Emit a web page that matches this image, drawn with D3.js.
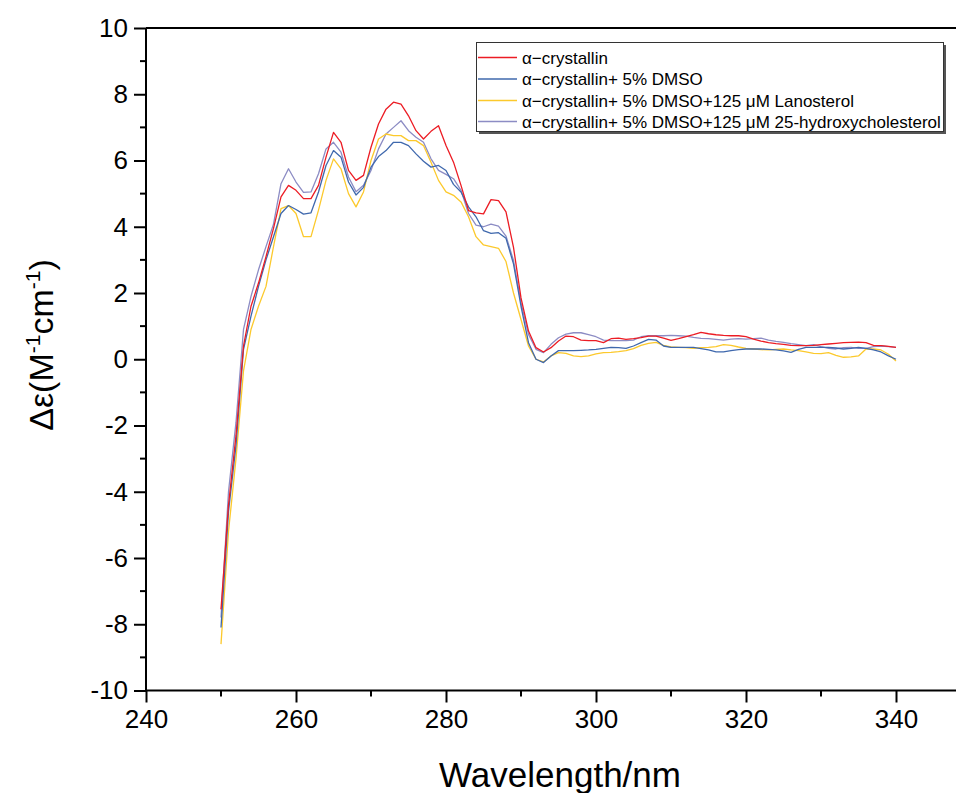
<!DOCTYPE html>
<html>
<head>
<meta charset="utf-8">
<script src="https://cdn.jsdelivr.net/npm/d3@7/dist/d3.min.js"></script>
<style>
  html, body { margin: 0; padding: 0; background: #ffffff; }
  svg { display: block; }
  text { font-family: "Liberation Sans", Arial, sans-serif; fill: #000; }
</style>
</head>
<body>
<svg id="chart" width="956" height="793"></svg>
<script>
// Wavelength grid (nm), 1 nm steps
const wavelengths = d3.range(250, 341, 1);

// CD spectra, Δε (M^-1 cm^-1), one value per wavelength
const alphaCrystallin = [
  -7.55, -4.4, -2.3, 0.4, 1.6, 2.3, 3.1, 3.95, 4.9, 5.25,
  5.1, 4.85, 4.85, 5.25, 6.1, 6.85, 6.55, 5.7, 5.4, 5.55,
  6.4, 7.1, 7.55, 7.76, 7.7, 7.35, 6.9, 6.65, 6.88, 7.05,
  6.45, 5.95, 5.25, 4.49, 4.42, 4.39, 4.82, 4.79, 4.45, 3.38,
  1.85, 0.85, 0.35, 0.22, 0.35, 0.55, 0.7, 0.68, 0.58, 0.56,
  0.56, 0.5, 0.62, 0.64, 0.6, 0.62, 0.65, 0.7, 0.7, 0.64,
  0.57, 0.62, 0.68, 0.74, 0.81, 0.77, 0.74, 0.72, 0.71, 0.71,
  0.68, 0.61, 0.55, 0.5, 0.47, 0.45, 0.42, 0.41, 0.41, 0.42,
  0.44, 0.46, 0.48, 0.5, 0.51, 0.52, 0.5, 0.42, 0.41, 0.39,
  0.36
];
const withDMSO = [
  -8.1, -4.6, -2.6, 0.3, 1.3, 2.2, 3.0, 3.7, 4.4, 4.64,
  4.52, 4.38, 4.42, 5.05, 5.85, 6.3, 6.1, 5.35, 4.96, 5.19,
  5.8, 6.12, 6.3, 6.55, 6.55, 6.45, 6.2, 5.98, 5.8, 5.85,
  5.7, 5.28, 5.05, 4.6, 4.3, 3.88, 3.8, 3.82, 3.65, 2.88,
  1.6, 0.5, 0.0, -0.1, 0.1, 0.26, 0.26, 0.26, 0.27, 0.28,
  0.3, 0.33, 0.36, 0.35, 0.33, 0.4, 0.5, 0.6, 0.58, 0.4,
  0.36, 0.36, 0.36, 0.36, 0.32, 0.28, 0.22, 0.22, 0.26, 0.29,
  0.31, 0.31, 0.31, 0.3, 0.28, 0.25, 0.21, 0.3, 0.36, 0.36,
  0.36, 0.36, 0.34, 0.31, 0.33, 0.36, 0.33, 0.28, 0.22, 0.1,
  0.0
];
const withLanosterol = [
  -8.6, -5.2, -3.0, -0.35, 0.9, 1.6, 2.2, 3.4, 4.55, 4.64,
  4.4, 3.7, 3.7, 4.5, 5.4, 6.05, 5.75, 5.0, 4.6, 5.05,
  6.0, 6.65, 6.8, 6.75, 6.75, 6.6, 6.6, 6.45, 5.95, 5.4,
  5.05, 4.95, 4.75, 4.3, 3.7, 3.45, 3.4, 3.35, 2.95, 2.0,
  1.2, 0.4, 0.0, -0.08, 0.1, 0.2, 0.18, 0.1, 0.08, 0.1,
  0.16, 0.2, 0.21, 0.23, 0.26, 0.32, 0.42, 0.48, 0.51, 0.42,
  0.37, 0.36, 0.35, 0.33, 0.35, 0.36, 0.38, 0.44, 0.42, 0.37,
  0.33, 0.31, 0.29, 0.28, 0.3, 0.31, 0.28, 0.26, 0.22, 0.18,
  0.17, 0.2, 0.12, 0.06, 0.07, 0.1, 0.31, 0.31, 0.28, 0.15,
  -0.05
];
const withHydroxycholesterol = [
  -7.8, -4.0, -1.9, 0.9, 1.9, 2.7, 3.4, 4.08, 5.3, 5.75,
  5.35, 5.04, 5.05, 5.6, 6.35, 6.55, 6.25, 5.5, 5.06, 5.25,
  5.7, 6.35, 6.8, 7.0, 7.2, 6.9, 6.7, 6.55, 6.05, 5.7,
  5.58, 5.45, 5.1, 4.4, 4.05, 4.0, 4.08, 4.02, 3.72, 2.98,
  1.7, 0.75, 0.3, 0.2, 0.45, 0.65, 0.76, 0.8, 0.8, 0.74,
  0.68, 0.58, 0.56, 0.56, 0.56, 0.58, 0.68, 0.71, 0.71, 0.71,
  0.72, 0.71, 0.7, 0.66, 0.63, 0.62, 0.6, 0.58, 0.61, 0.62,
  0.61, 0.62, 0.64, 0.58, 0.54, 0.51, 0.47, 0.44, 0.41, 0.44,
  0.38, 0.33, 0.31, 0.35, 0.36, 0.33, 0.33, 0.38, 0.4, 0.38,
  0.36
];

const seriesNames = [
  "α−crystallin",
  "α−crystallin+ 5% DMSO",
  "α−crystallin+ 5% DMSO+125 μM Lanosterol",
  "α−crystallin+ 5% DMSO+125 μM 25-hydroxycholesterol"
];
const seriesValues = [alphaCrystallin, withDMSO, withLanosterol, withHydroxycholesterol];
const seriesColors = ["#ec1c24", "#3f68ad", "#fcc92c", "#8c8cc4"];

const xTicks = [240, 260, 280, 300, 320, 340];
const yTicks = [-10, -8, -6, -4, -2, 0, 2, 4, 6, 8, 10];

const svg = d3.select("#chart");
svg.append("rect").attr("width", 956).attr("height", 793).attr("fill", "#ffffff");

const x = d3.scaleLinear().domain([240, 350]).range([146, 971]);
const y = d3.scaleLinear().domain([-10, 10]).range([690.5, 28]);

// Spectra
const line = d3.line()
  .x((d, i) => x(wavelengths[i]))
  .y(d => y(d));

// Draw back to front so the red trace sits on top
const order = [3, 2, 1, 0];
order.forEach(k => {
  svg.append("path")
    .datum(seriesValues[k])
    .attr("fill", "none")
    .attr("stroke", seriesColors[k])
    .attr("stroke-width", 1.3)
    .attr("stroke-linejoin", "round")
    .attr("d", line);
});

// Plain hyphen for negative tick labels
const fmt = d => String(d);

// Minor ticks
const xMinor = d3.range(250, 350, 20);
const yMinor = d3.range(-9, 10, 2);

const xAxis = svg.append("g").attr("transform", `translate(0,${y(-10)})`);
xAxis.call(d3.axisBottom(x).tickValues(xTicks).tickSize(12).tickPadding(7).tickFormat(fmt));
xAxis.append("g").selectAll("line").data(xMinor).join("line")
  .attr("x1", d => x(d)).attr("x2", d => x(d))
  .attr("y1", 0).attr("y2", 6).attr("stroke", "#000").attr("stroke-width", 2);

const yAxis = svg.append("g").attr("transform", `translate(${x(240)},0)`);
yAxis.call(d3.axisLeft(y).tickValues(yTicks).tickSize(12).tickPadding(6).tickFormat(fmt));
yAxis.append("g").selectAll("line").data(yMinor).join("line")
  .attr("y1", d => y(d)).attr("y2", d => y(d))
  .attr("x1", 0).attr("x2", -6).attr("stroke", "#000").attr("stroke-width", 2);

[xAxis, yAxis].forEach(g => {
  g.select(".domain").attr("stroke", "#000").attr("stroke-width", 2);
  g.selectAll(".tick line").attr("stroke", "#000").attr("stroke-width", 2);
  g.selectAll(".tick text")
    .attr("font-family", '"Liberation Sans", Arial, sans-serif')
    .attr("font-size", 26)
    .attr("fill", "#000");
});
// straight axis ends (no outer ticks)
xAxis.select(".domain").attr("d", `M${x(240)},0H${x(350)}`);
yAxis.select(".domain").attr("d", `M0,${y(-10)}V${y(10)}`);

// top frame line
svg.append("line")
  .attr("x1", x(240)).attr("x2", x(350))
  .attr("y1", y(10)).attr("y2", y(10))
  .attr("stroke", "#000").attr("stroke-width", 2);

// Axis titles
svg.append("text")
  .attr("x", 560).attr("y", 787)
  .attr("text-anchor", "middle")
  .attr("font-size", 35)
  .text("Wavelength/nm");

const yTitle = svg.append("text")
  .attr("transform", "translate(53,345) rotate(-90)")
  .attr("text-anchor", "middle")
  .attr("font-size", 34);
yTitle.append("tspan").text("Δε(M");
yTitle.append("tspan").attr("font-size", 21).attr("dy", -13).text("-1");
yTitle.append("tspan").attr("dy", 13).text("cm");
yTitle.append("tspan").attr("font-size", 21).attr("dy", -13).text("-1");
yTitle.append("tspan").attr("dy", 13).text(")");

// Legend
const legend = svg.append("g");
legend.append("rect")
  .attr("x", 479).attr("y", 45).attr("width", 467).attr("height", 89)
  .attr("fill", "#555");
legend.append("rect")
  .attr("x", 476.5).attr("y", 42.5).attr("width", 467).attr("height", 89)
  .attr("fill", "#fff").attr("stroke", "#333").attr("stroke-width", 1);

const rowY = [57.5, 79, 100.5, 121.5];
seriesNames.forEach((name, i) => {
  legend.append("line")
    .attr("x1", 478).attr("x2", 517)
    .attr("y1", rowY[i]).attr("y2", rowY[i])
    .attr("stroke", seriesColors[i]).attr("stroke-width", 1.3);
  legend.append("text")
    .attr("x", 522).attr("y", rowY[i] + 6)
    .attr("font-size", 17)
    .text(name);
});
</script>
</body>
</html>
